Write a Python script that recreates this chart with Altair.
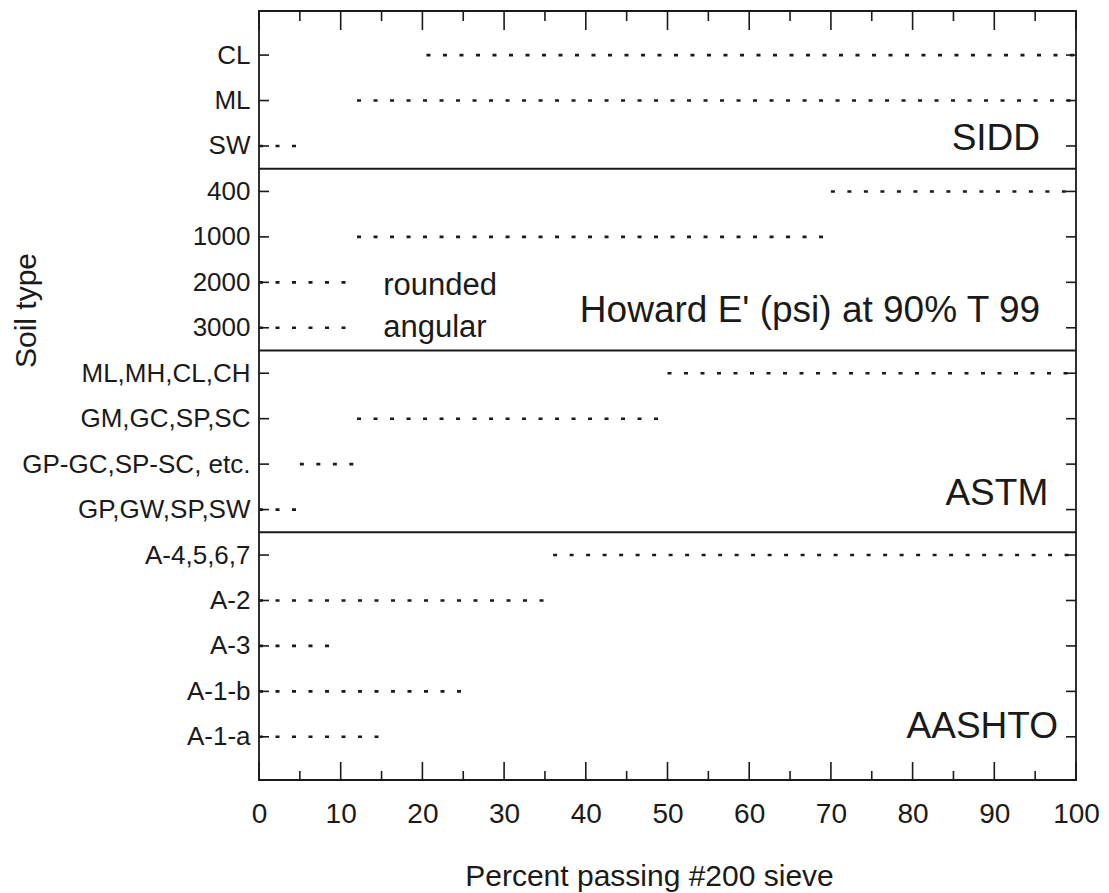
import altair as alt
import pandas as pd

# ---- data ----
soil_types = ["CL", "ML", "SW", "400", "1000", "2000", "3000",
              "ML,MH,CL,CH", "GM,GC,SP,SC", "GP-GC,SP-SC, etc.", "GP,GW,SP,SW",
              "A-4,5,6,7", "A-2", "A-3", "A-1-b", "A-1-a"]
range_start = [20.5, 12, 0, 70, 12, 0, 0, 50, 12, 5, 0, 36, 0, 0, 0, 0]
range_end = [100, 100, 5, 100, 70, 11, 11, 100, 49, 12, 5, 100, 35, 9, 25, 15]

group_breaks = [13.5, 9.5, 5.5]
group_names = ["SIDD", "Howard E' (psi) at 90% T 99", "ASTM", "AASHTO"]
group_label_x = [95.6, 95.6, 96.6, 97.8]
group_label_y = [13.91, 10.13, 6.1, 0.98]

legend_names = ["rounded", "angular"]
legend_x = [15.2, 15.2]
legend_y = [10.72, 9.8]

x_major = list(range(0, 101, 10))
x_minor = list(range(5, 100, 10))

# ---- layout ----
W, H = 817, 769
FONT = "Liberation Sans"
INK = "#1a1a1a"
n = len(soil_types)
row_pos = [n - i for i in range(n)]

xs = alt.Scale(domain=[0, 100], nice=False, zero=False)
ys = alt.Scale(domain=[0.05, 16.97], nice=False, zero=False)

label_expr = "[''," + ",".join("'" + s + "'" for s in reversed(soil_types)) + "][datum.value]"

x_axis = alt.Axis(values=x_major, title="Percent passing #200 sieve",
                  grid=False, domain=False, ticks=False, tickSize=0,
                  labelFontSize=28, labelPadding=20, labelFont=FONT,
                  labelFlush=False, labelColor=INK,
                  titleFont=FONT, titleFontSize=30,
                  titleFontWeight="normal", titleColor=INK,
                  titleX=390, titleY=105, titleAlign="center",
                  titleBaseline="alphabetic")
y_axis = alt.Axis(values=list(range(1, n + 1)), labelExpr=label_expr,
                  title="Soil type", grid=False, domain=False,
                  ticks=False, tickSize=0, labelFontSize=26, labelLimit=400,
                  labelPadding=9, labelFont=FONT, labelColor=INK,
                  titleFont=FONT, titleFontSize=30,
                  titleFontWeight="normal", titleColor=INK,
                  titleAngle=270, titleX=-224, titleY=299,
                  titleAlign="center", titleBaseline="alphabetic")


def X(f):
    return alt.X(f, scale=xs, axis=x_axis)


def Y(f):
    return alt.Y(f, scale=ys, axis=y_axis)


ranges = pd.DataFrame({"soil": soil_types, "pos": row_pos,
                       "start": range_start, "end": range_end})

lines = alt.Chart(ranges).mark_rule(
    strokeDash=[4, 12.5], strokeWidth=2.6, color=INK
).encode(x=X("start:Q"), x2="end:Q", y=Y("pos:Q"))

breaks = alt.Chart(pd.DataFrame({"b": group_breaks})).mark_rule(
    strokeWidth=2, color=INK
).encode(y=Y("b:Q"))

group_text = alt.Chart(pd.DataFrame({"t": group_names, "x": group_label_x,
                                     "y": group_label_y})).mark_text(
    align="right", baseline="alphabetic", fontSize=37, font=FONT, color=INK
).encode(x=X("x:Q"), y=Y("y:Q"), text="t:N")

legend_text = alt.Chart(pd.DataFrame({"t": legend_names, "x": legend_x,
                                      "y": legend_y})).mark_text(
    align="left", baseline="alphabetic", fontSize=31, font=FONT, color=INK
).encode(x=X("x:Q"), y=Y("y:Q"), text="t:N")

# inward ticks drawn as rules
maj = pd.DataFrame({"v": x_major})
mnr = pd.DataFrame({"v": x_minor})
rows = pd.DataFrame({"v": row_pos})
tick_style = dict(color=INK, strokeWidth=1.6)

bot_major = alt.Chart(maj).mark_rule(**tick_style).encode(
    x=X("v:Q"), y=alt.value(H), y2=alt.value(H - 18))
bot_minor = alt.Chart(mnr).mark_rule(**tick_style).encode(
    x=X("v:Q"), y=alt.value(H), y2=alt.value(H - 9))
top_major = alt.Chart(maj).mark_rule(**tick_style).encode(
    x=X("v:Q"), y=alt.value(0), y2=alt.value(19))
top_minor = alt.Chart(mnr).mark_rule(**tick_style).encode(
    x=X("v:Q"), y=alt.value(0), y2=alt.value(10))
left_ticks = alt.Chart(rows).mark_rule(**tick_style).encode(
    y=Y("v:Q"), x=alt.value(0), x2=alt.value(10))
right_ticks = alt.Chart(rows).mark_rule(**tick_style).encode(
    y=Y("v:Q"), x=alt.value(W - 10), x2=alt.value(W))

chart = alt.layer(
    lines, breaks, group_text, legend_text,
    bot_major, bot_minor, top_major, top_minor, left_ticks, right_ticks
).properties(
    width=W, height=H,
    background="white",
    autosize=alt.AutoSizeParams(type="none"),
    padding={"left": 251, "top": 3, "right": 25, "bottom": 113},
).configure_view(
    stroke=INK, strokeWidth=1.8
)

chart.save("out.html", embed_options={"renderer": "svg", "actions": False})
